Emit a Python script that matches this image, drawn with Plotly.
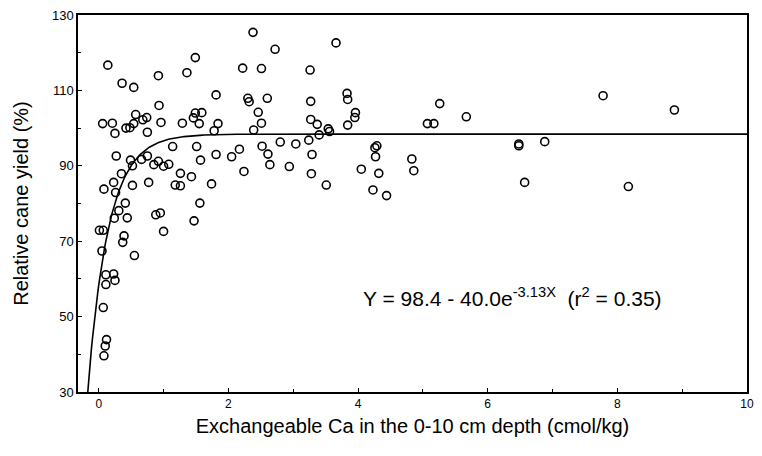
import numpy as np
import plotly.graph_objects as go

# Observed data (Exchangeable Ca, relative cane yield %)
ca = [0.14, 0.36, 0.54, 0.92, 1.36, 1.49, 2.38, 2.72, 2.22, 2.51,
      1.81, 2.30, 2.32, 2.60, 2.46, 2.51, 2.39, 0.93, 0.06, 0.21,
      0.25, 0.42, 0.48, 0.54, 0.57, 0.68, 0.74, 0.75, 0.96, 1.29,
      1.49, 1.59, 1.46, 1.55, 1.84, 1.78, 0.27, 0.49, 0.52, 0.66,
      0.75, 0.85, 0.92, 1.00, 1.08, 1.14, 1.51, 1.57, 1.81, 2.05,
      2.17, 2.52, 2.61, 2.64, 2.80, 2.94, 2.24, 3.04, 1.26, 1.43,
      1.18, 1.26, 1.74, 0.77, 0.52, 0.23, 0.35, 0.08, 0.26, 0.41,
      0.31, 0.24, 0.44, 0.88, 0.95, 1.56, 1.47, 1.00, 0.01, 0.07,
      0.39, 0.37, 0.55, 0.05, 0.11, 0.23, 0.25, 0.11, 0.07, 0.12,
      0.10, 0.08, 3.66, 3.26, 3.83, 3.84, 3.27, 5.26, 5.67, 3.96,
      3.95, 3.27, 3.37, 3.84, 5.07, 5.17, 3.54, 3.56, 3.40, 3.24,
      3.29, 3.28, 3.51, 4.29, 4.26, 4.27, 4.83, 4.86, 4.05, 4.32,
      4.23, 4.44, 6.48, 6.48, 6.57, 7.78, 8.88, 6.88, 8.17]
yield_pct = [116.7, 111.9, 110.8, 113.9, 114.7, 118.7, 125.4, 120.9, 115.9, 115.8,
             108.8, 107.9, 107.0, 107.9, 104.2, 101.3, 99.5, 106.0, 101.2, 101.3,
             98.6, 100.0, 100.1, 101.2, 103.6, 102.2, 102.8, 98.9, 101.5, 101.3,
             104.0, 104.1, 102.7, 101.2, 101.2, 99.3, 92.6, 91.5, 90.0, 91.7,
             92.6, 90.3, 91.2, 89.9, 90.4, 95.1, 95.1, 91.5, 93.0, 92.4,
             94.4, 95.2, 93.1, 90.3, 96.3, 89.8, 88.5, 95.8, 88.0, 87.1,
             84.9, 84.7, 85.2, 85.6, 84.8, 85.6, 87.9, 83.8, 82.9, 80.1,
             78.1, 76.1, 76.2, 77.0, 77.5, 80.1, 75.4, 72.6, 72.9, 72.9,
             71.4, 69.7, 66.2, 67.4, 61.1, 61.3, 59.6, 58.5, 52.4, 43.9,
             42.2, 39.6, 122.6, 115.4, 109.2, 107.6, 107.1, 106.5, 103.0, 104.1,
             102.8, 102.3, 101.0, 100.8, 101.2, 101.2, 99.8, 99.1, 98.2, 96.8,
             93.0, 87.9, 84.9, 95.3, 94.8, 92.4, 91.8, 88.7, 89.1, 88.0,
             83.6, 82.1, 95.8, 95.3, 85.6, 108.6, 104.8, 96.4, 84.5]

# Fitted model Y = a - b * exp(-k X)
fit_a, fit_b, fit_k = 98.4, 40.0, 3.13
x_fit = np.linspace(-0.2, 10.0, 600)
y_fit = fit_a - fit_b * np.exp(-fit_k * x_fit)

x_ticks = [0, 2, 4, 6, 8, 10]
y_ticks = [30, 50, 70, 90, 110, 130]

FONT = "Liberation Sans, Arial, sans-serif"

fig = go.Figure()
fig.add_trace(go.Scatter(
    x=x_fit, y=y_fit, mode="lines",
    line=dict(color="black", width=1.6),
    hoverinfo="skip", showlegend=False))
fig.add_trace(go.Scatter(
    x=ca, y=yield_pct, mode="markers",
    marker=dict(symbol="circle-open", size=8, color="black",
                line=dict(color="black", width=1.6)),
    showlegend=False))

fig.add_annotation(
    x=6.39, y=55.1, xref="x", yref="y",
    text="Y = 98.4 - 40.0e<sup>-3.13X</sup>  (r<sup>2</sup> = 0.35)",
    showarrow=False, xanchor="center", yanchor="middle",
    font=dict(family=FONT, size=21, color="black"))

fig.update_xaxes(
    range=[-0.32, 10.0], tickvals=x_ticks, ticktext=[str(v) for v in x_ticks],
    showgrid=False, zeroline=False, showline=True, linecolor="black", linewidth=1.5,
    mirror=True, ticks="inside", ticklen=4, tickcolor="black",
    minor=dict(dtick=1, ticks="inside", ticklen=3, tickcolor="black"),
    ticklabeloverflow="allow",
    tickfont=dict(family=FONT, size=12, color="black"),
    title=dict(text="Exchangeable Ca in the 0-10 cm depth (cmol/kg)",
               font=dict(family=FONT, size=20, color="black"), standoff=9))
fig.update_yaxes(
    range=[30, 130], tickvals=y_ticks, ticktext=[str(v) for v in y_ticks],
    showgrid=False, zeroline=False, showline=True, linecolor="black", linewidth=1.5,
    mirror=True, ticks="inside", ticklen=4, tickcolor="black",
    minor=dict(dtick=10, ticks="inside", ticklen=3, tickcolor="black"),
    tickfont=dict(family=FONT, size=13, color="black"),
    title=dict(text="Relative cane yield (%)",
               font=dict(family=FONT, size=20, color="black"), standoff=18))

fig.update_layout(
    width=762, height=456,
    margin=dict(l=78, r=8, t=14, b=64),
    paper_bgcolor="white", plot_bgcolor="white",
    font=dict(family=FONT, color="black"))

fig.write_html("out.html", config={"displayModeBar": False},
               post_script="document.body.style.margin='0';")
